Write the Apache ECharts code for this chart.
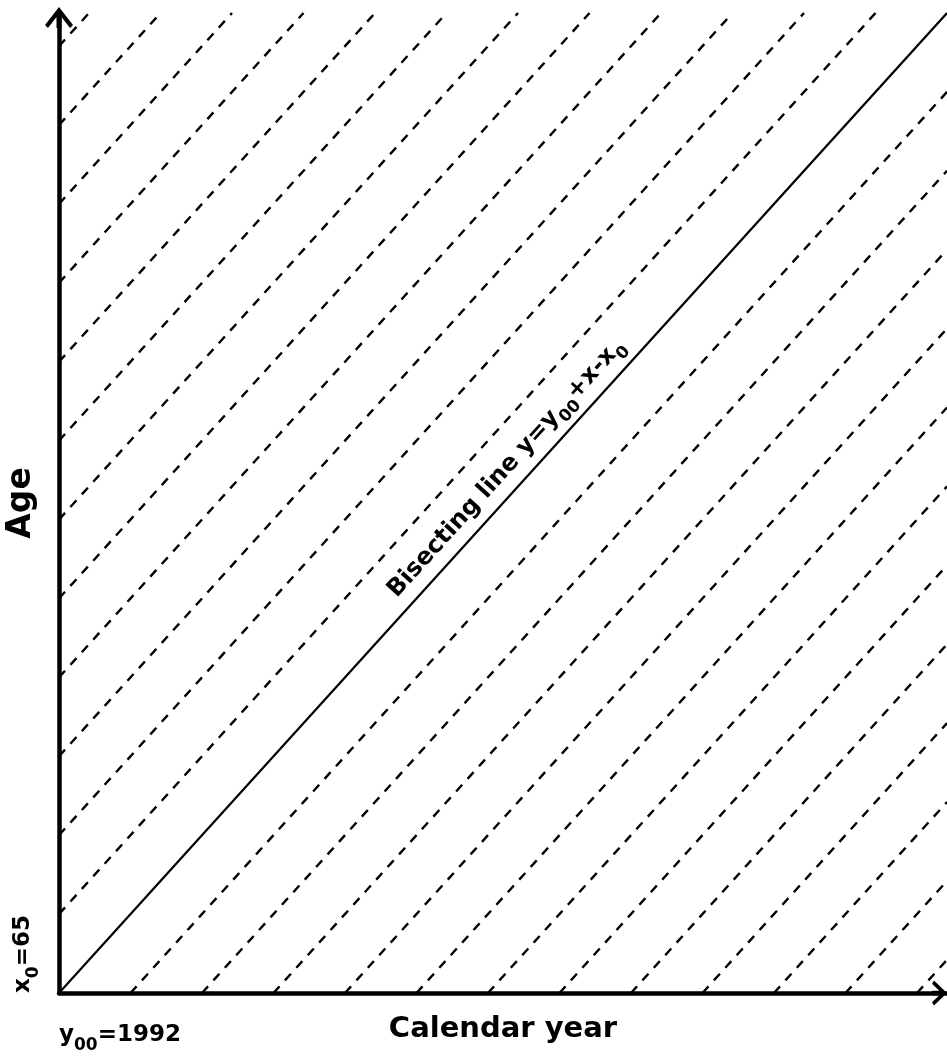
<!DOCTYPE html>
<html>
<head>
<meta charset="utf-8">
<title>Lexis diagram</title>
<script src="https://cdn.jsdelivr.net/npm/echarts@6/dist/echarts.min.js"></script>
<style>
  html, body { margin: 0; padding: 0; background: #fff; }
  #lexis { width: 947px; height: 1059px; }
</style>
</head>
<body>
<div id="lexis"></div>
<script>
// extent of the plot (years after the origin) on both axes
var yearMax = 12.42;
var ageMax = 12.42;
// origin labels
var originYear = 1992;
var originAge = 65;
// life lines y = x + k, one per cohort offset
var cohortOffsets = [-12, -11, -10, -9, -8, -7, -6, -5, -4, -3, -2, -1,
                     1, 2, 3, 4, 5, 6, 7, 8, 9, 10, 11, 12];
// bisecting line through the origin
var bisectLine = [[0, 0], [12.42, 12.42]];

var FONT = '"DejaVu Sans", sans-serif';

// clip the line y = x + k to the plot box
function cohortLine(k) {
    var xa = k < 0 ? -k : 0;
    var xb = k < 0 ? yearMax : ageMax - k;
    return [[xa, xa + k], [xb, xb + k]];
}

function subRich(size, sub) {
    return {
        t: { fontFamily: FONT, fontWeight: 'bold', fontSize: size, color: '#000',
             lineHeight: size + 3, verticalAlign: 'top' },
        s: { fontFamily: FONT, fontWeight: 'bold', fontSize: sub, color: '#000',
             lineHeight: sub + 1, verticalAlign: 'top', padding: [Math.round(size * 0.55), 0, 0, 0] }
    };
}

var dom = document.getElementById('lexis');
var myChart = echarts.init(dom);

var series = cohortOffsets.map(function (k) {
    return {
        type: 'line',
        data: cohortLine(k),
        symbol: 'none',
        silent: true,
        animation: false,
        lineStyle: { color: '#000', width: 2.4, type: [9, 8] }
    };
});

series.push({
    type: 'line',
    data: bisectLine,
    symbol: 'none',
    silent: true,
    animation: false,
    lineStyle: { color: '#000', width: 2.2 },
    markLine: {
        silent: true,
        animation: false,
        symbol: ['none', 'none'],
        lineStyle: { color: '#000', width: 0, type: 'solid' },
        label: {
            show: true,
            position: 'insideMiddleTop',
            distance: 6,
            padding: [0, 0, 0, 56],
            formatter: '{t|Bisecting line y=y}{s|00}{t|+x-x}{s|0}',
            rich: subRich(24, 17)
        },
        data: [[{ coord: bisectLine[0] }, { coord: bisectLine[1] }]]
    }
});

option = {
    backgroundColor: '#fff',
    animation: false,
    grid: { left: 59, right: 0, top: 13, bottom: 66, containLabel: false, outerBoundsMode: 'none' },
    xAxis: {
        type: 'value',
        min: 0,
        max: yearMax,
        interval: 1,
        splitLine: { show: false },
        axisTick: { show: false },
        axisLine: {
            show: true,
            lineStyle: { color: '#000', width: 4.5 },
            symbol: ['none', 'path://M12.5,0L25,13L21.8,15L14.75,7.7L14.75,15L10.25,15L10.25,7.7L3.2,15L0,13Z'],
            symbolSize: [25, 15],
            symbolOffset: [0, -7.5]
        },
        axisLabel: {
            show: true,
            showMaxLabel: false,
            align: 'left',
            margin: 31,
            formatter: function (v) {
                return v === 0 ? '{t|y}{s|00}{t|=' + originYear + '}' : '';
            },
            rich: subRich(23, 17)
        },
        name: 'Calendar year',
        nameLocation: 'middle',
        nameGap: 22,
        nameMoveOverlap: false,
        nameTextStyle: { fontFamily: FONT, fontWeight: 'bold', fontSize: 29, color: '#000' }
    },
    yAxis: {
        type: 'value',
        min: 0,
        max: ageMax,
        interval: 1,
        splitLine: { show: false },
        axisTick: { show: false },
        axisLine: {
            show: true,
            lineStyle: { color: '#000', width: 4.5 },
            symbol: ['none', 'path://M14,0L28,18L25,21L16.5,10L16.5,21L11.5,21L11.5,10L3,21L0,18Z'],
            symbolSize: [28, 21],
            symbolOffset: [0, -4.5]
        },
        axisLabel: {
            show: true,
            showMaxLabel: false,
            rotate: 90,
            align: 'left',
            margin: 21,
            formatter: function (v) {
                return v === 0 ? '{t|x}{s|0}{t|=' + originAge + '}' : '';
            },
            rich: subRich(23, 17)
        },
        name: 'Age',
        nameLocation: 'middle',
        nameGap: 21,
        nameMoveOverlap: false,
        nameTextStyle: { fontFamily: FONT, fontWeight: 'bold', fontSize: 33, color: '#000' }
    },
    series: series
};

if (option && typeof option === "object") {
    myChart.setOption(option, true);
}

window.addEventListener("resize", function () {
    myChart.resize();
})
</script>
</body>
</html>
